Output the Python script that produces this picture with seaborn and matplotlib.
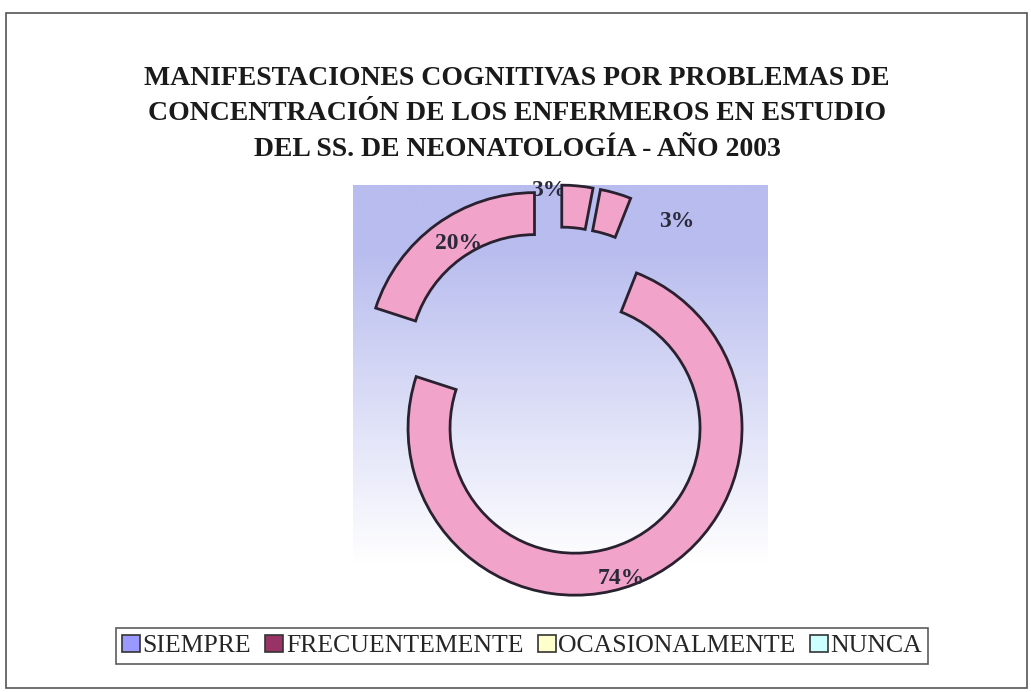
import numpy as np
import matplotlib
matplotlib.use("Agg")
import matplotlib.pyplot as plt
from matplotlib.patches import Rectangle, Patch
import seaborn as sns

# ---- data ----
categories = ["SIEMPRE", "FRECUENTEMENTE", "OCASIONALMENTE", "NUNCA"]
values = [3, 3, 74, 20]
title_lines = [
    "MANIFESTACIONES COGNITIVAS POR PROBLEMAS DE",
    "CONCENTRACIÓN DE LOS ENFERMEROS EN ESTUDIO",
    "DEL SS. DE NEONATOLOGÍA - AÑO 2003",
]

# ---- style ----
sns.set_theme(style="white")
plt.rcParams["font.family"] = ["Liberation Serif", "DejaVu Serif"]

legend_colors = ["#9999FF", "#993366", "#FFFFCC", "#CCFFFF"]
slice_color = "#F2A3CA"
edge_color = "#2A2130"

W, H = 1031, 692
fig = plt.figure(figsize=(W / 100, H / 100), dpi=100)
fig.patch.set_facecolor("white")

# outer frame
fig.add_artist(Rectangle((6 / W, 4 / H), 1021 / W, 675 / H, transform=fig.transFigure,
                         fill=False, edgecolor="#555555", linewidth=1.2))

# title
fig.text(517 / W, 1 - 114 / H, "\n".join(title_lines), ha="center", va="center",
         fontsize=20, fontweight="bold", color="#1a1a1a", linespacing=1.55)

# plot area
x0, x1, ytop, ybot = 353, 768, 185, 592
ax = fig.add_axes([x0 / W, 1 - ybot / H, (x1 - x0) / W, (ybot - ytop) / H])
ax.set_xlim(x0, x1)
ax.set_ylim(H - ybot, H - ytop)

# gradient background (blue at top -> white at bottom)
n = 256
t = np.linspace(0, 1, n)[:, None]
top = np.array([184, 188, 238]) / 255.0
bot = np.array([255, 255, 255]) / 255.0
f = np.clip((t - 0.15) / 0.78, 0, 1)
grad = top[None, None, :] * (1 - f[..., None]) + bot[None, None, :] * f[..., None]
grad = np.repeat(grad, 4, axis=1)
ax.imshow(grad, extent=(x0, x1, H - ybot, H - ytop), aspect="auto", zorder=0,
          interpolation="bilinear")

center = (558, H - 392)
radius = 167
explode = [40] * len(values)
wedges, texts, autotexts = ax.pie(
    values, colors=[slice_color] * len(values), startangle=90, counterclock=False,
    center=center, radius=radius, explode=explode, frame=True,
    wedgeprops=dict(width=42, edgecolor=edge_color, linewidth=2),
    autopct=lambda p: f"{p:.0f}%", pctdistance=0.9,
    textprops=dict(fontsize=17, fontweight="bold", color="#2a2a3a"),
)
for w in wedges:
    w.set_zorder(2)

# fine label placement (angle offset in degrees, distance factor) per slice
label_adj = [(-10, 0.97), (23, 1.02), (8, 0.94), (3, 0.83)]
for w, at, (dang, dist) in zip(wedges, autotexts, label_adj):
    thm = np.deg2rad(0.5 * (w.theta1 + w.theta2) - dang)
    cx, cy = w.center
    at.set_position((cx + dist * radius * np.cos(thm), cy + dist * radius * np.sin(thm)))
    at.set_zorder(3 if at is not autotexts[0] else 1)

ax.set_xlim(x0, x1)
ax.set_ylim(H - ybot, H - ytop)
ax.set_aspect("auto")
ax.set_xticks([])
ax.set_yticks([])
for s in ax.spines.values():
    s.set_visible(False)

# legend
handles = [Patch(facecolor=c, edgecolor="#333333", linewidth=1.2) for c in legend_colors]
leg = fig.legend(handles, categories, loc="center", bbox_to_anchor=(522 / W, 1 - 646 / H),
                 ncol=4, frameon=True, fontsize=18.5, handlelength=0.7, handleheight=0.7,
                 handletextpad=0.1, columnspacing=0.55, borderpad=0.25, fancybox=False)
leg.get_frame().set_edgecolor("#333333")
leg.get_frame().set_linewidth(1.2)

fig.savefig("out.png", dpi=100)
